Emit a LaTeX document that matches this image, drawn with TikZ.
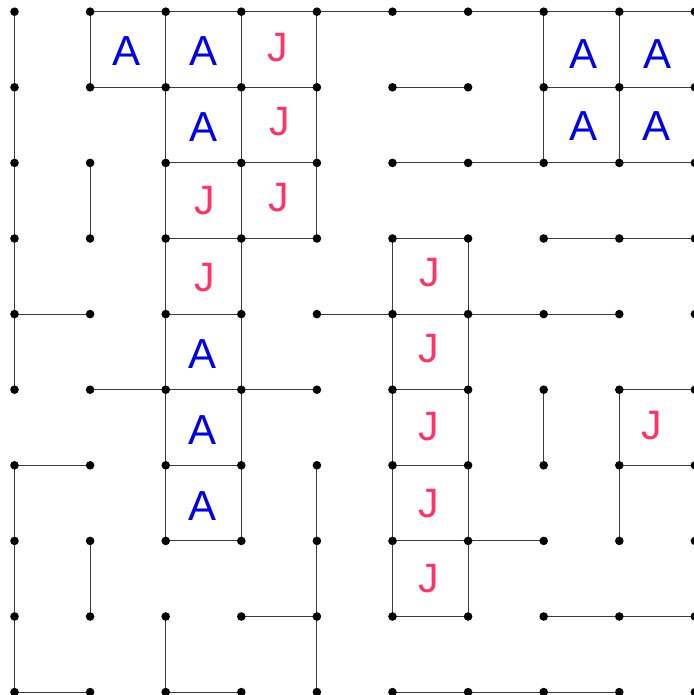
\documentclass[tikz,border=0pt]{standalone}
\usepackage{fontspec}
\setmainfont{Liberation Sans}
\definecolor{ablue}{RGB}{0,0,235}
\definecolor{jred}{RGB}{255,51,102}
\definecolor{edgec}{RGB}{60,60,60}
\begin{document}
\begin{tikzpicture}[x=1pt,y=-1pt,
  seg/.style={draw=edgec, line width=1pt},
  dot/.style={circle, fill=black, inner sep=0pt, minimum size=8.6pt},
  la/.style={text=ablue, inner sep=0pt, font=\fontsize{42}{42}\selectfont},
  lj/.style={text=jred, inner sep=0pt, font=\fontsize{41}{41}\selectfont}]
\useasboundingbox (0,0) rectangle (693,695);
\foreach \i in {0,...,9}{
  \foreach \j in {0,...,9}{
    \coordinate (p\i-\j) at ({14.5+75.6*\i},{11.7+75.6*\j});
  }
}
% horizontal segments
\draw[seg] (p1-0) -- (p9-0);
\draw[seg] (p1-1) -- (p4-1);
\draw[seg] (p5-1) -- (p6-1);
\draw[seg] (p7-1) -- (p9-1);
\draw[seg] (p2-2) -- (p4-2);
\draw[seg] (p5-2) -- (p9-2);
\draw[seg] (p2-3) -- (p4-3);
\draw[seg] (p5-3) -- (p6-3);
\draw[seg] (p7-3) -- (p9-3);
\draw[seg] (p0-4) -- (p1-4);
\draw[seg] (p2-4) -- (p3-4);
\draw[seg] (p4-4) -- (p8-4);
\draw[seg] (p1-5) -- (p4-5);
\draw[seg] (p5-5) -- (p6-5);
\draw[seg] (p8-5) -- (p9-5);
\draw[seg] (p0-6) -- (p1-6);
\draw[seg] (p2-6) -- (p3-6);
\draw[seg] (p5-6) -- (p6-6);
\draw[seg] (p8-6) -- (p9-6);
\draw[seg] (p2-7) -- (p3-7);
\draw[seg] (p5-7) -- (p7-7);
\draw[seg] (p3-8) -- (p4-8);
\draw[seg] (p5-8) -- (p6-8);
\draw[seg] (p7-8) -- (p9-8);
\draw[seg] (p0-9) -- (p1-9);
\draw[seg] (p2-9) -- (p3-9);
\draw[seg] (p5-9) -- (p8-9);
% vertical segments
\draw[seg] (p0-0) -- (p0-5);
\draw[seg] (p0-6) -- (p0-9);
\draw[seg] (p1-0) -- (p1-1);
\draw[seg] (p1-2) -- (p1-3);
\draw[seg] (p1-7) -- (p1-8);
\draw[seg] (p2-0) -- (p2-7);
\draw[seg] (p2-8) -- (p2-9);
\draw[seg] (p3-0) -- (p3-7);
\draw[seg] (p4-0) -- (p4-3);
\draw[seg] (p4-6) -- (p4-9);
\draw[seg] (p5-3) -- (p5-8);
\draw[seg] (p6-3) -- (p6-8);
\draw[seg] (p7-0) -- (p7-2);
\draw[seg] (p7-5) -- (p7-6);
\draw[seg] (p8-0) -- (p8-2);
\draw[seg] (p8-5) -- (p8-7);
% dots
\foreach \i in {0,...,9}{
  \foreach \j in {0,...,9}{
    \node[dot] (d\i-\j) at (p\i-\j) {};
  }
}
% letters
\node[la] (a10) at (126.5,51.5) {A};
\node[la] (a20) at (203.5,51.5) {A};
\node[lj] (j30) at (278,48) {J};
\node[la] (a21) at (203.5,127) {A};
\node[lj] (j31) at (280,122) {J};
\node[lj] (j22) at (205,201) {J};
\node[lj] (j32) at (279,198) {J};
\node[lj] (j23) at (205,278) {J};
\node[la] (a24) at (203,354) {A};
\node[la] (a25) at (203,430) {A};
\node[la] (a26) at (203,506) {A};
\node[lj] (j53) at (430,273) {J};
\node[lj] (j54) at (429,349) {J};
\node[lj] (j55) at (429,427) {J};
\node[lj] (j56) at (429,504) {J};
\node[lj] (j57) at (429,579) {J};
\node[lj] (j85) at (652,426) {J};
\node[la] (a70) at (583.5,54) {A};
\node[la] (a80) at (657,54) {A};
\node[la] (a71) at (583.5,126) {A};
\node[la] (a81) at (656,126) {A};
\end{tikzpicture}
\end{document}
